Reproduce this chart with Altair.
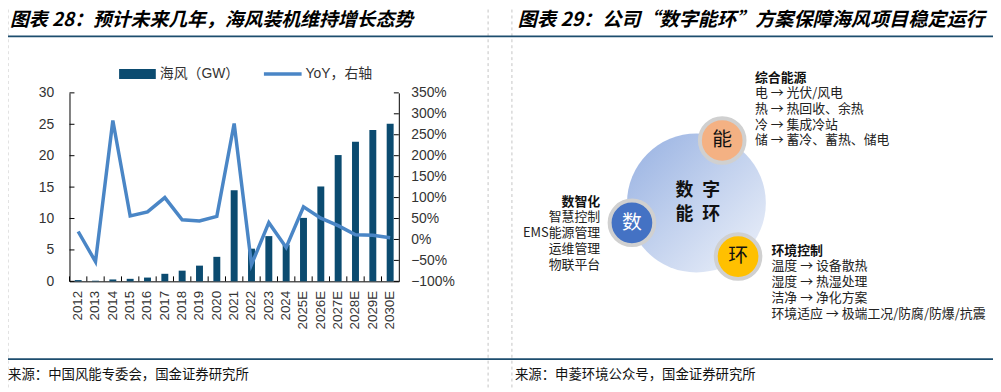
import altair as alt
import pandas as pd

# ---------------- data ----------------
years = ["2012", "2013", "2014", "2015", "2016", "2017", "2018", "2019", "2020",
         "2021", "2022", "2023", "2024", "2025E", "2026E", "2027E", "2028E",
         "2029E", "2030E"]
capacity_gw = [0.2, 0.1, 0.3, 0.4, 0.6, 1.2, 1.7, 2.5, 3.9, 14.5, 5.2, 7.2, 5.8,
               10.1, 15.1, 20.1, 22.2, 24.1, 25.1]
yoy = [0.19, -0.53, 2.84, 0.56, 0.66, 1.00, 0.47, 0.44, 0.55, 2.77, -0.60, 0.40,
       -0.19, 0.78, 0.51, 0.33, 0.11, 0.10, 0.04]
left_ticks = [0, 5, 10, 15, 20, 25, 30]
right_ticks = [-1.0, -0.5, 0.0, 0.5, 1.0, 1.5, 2.0, 2.5, 3.0, 3.5]

legend_labels = ["海风（GW）", "YoY，右轴"]
title_left = "图表 28：预计未来几年，海风装机维持增长态势"
title_right = "图表 29：公司“数字能环”方案保障海风项目稳定运行"
source_left = "来源：中国风能专委会，国金证券研究所"
source_right = "来源：申菱环境公众号，国金证券研究所"

center_chars = ["数", "字", "能", "环"]
node_chars = ["能", "数", "环"]
energy_lines = ["综合能源", "电 → 光伏/风电", "热 → 热回收、余热", "冷 → 集成冷站",
                "储 → 蓄冷、蓄热、储电"]
digital_lines = ["数智化", "智慧控制", "EMS能源管理", "运维管理", "物联平台"]
env_lines = ["环境控制", "温度 → 设备散热", "湿度 → 热湿处理", "洁净 → 净化方案",
             "环境适应 → 极端工况/防腐/防爆/抗震"]

# ---------------- style ----------------
BAR = "#0b4b70"
LINE = "#4a86c6"
NAVY = "#1d4d6e"
CJK = "Noto Sans CJK SC"
LAT = "Liberation Sans, Noto Sans CJK SC"
W, H = 332, 190

df = pd.DataFrame({"year": years, "cap": capacity_gw, "yoy": yoy})
one = pd.DataFrame({"k": [0]})

xscale = alt.Scale(domain=years, paddingInner=0.6, paddingOuter=0.3)
xenc = alt.X("year:N", sort=years, scale=xscale,
             axis=alt.Axis(title=None, labelAngle=-90, labelPadding=9,
                           labelFontSize=13.5, domainColor="#000"))

bars = alt.Chart(df).mark_bar(color=BAR).encode(
    x=xenc,
    y=alt.Y("cap:Q", scale=alt.Scale(domain=[0, 30], nice=False),
            axis=alt.Axis(orient="left", values=left_ticks, title=None,
                          labelPadding=16, labelFontSize=14)),
)
line = alt.Chart(df).mark_line(color=LINE, strokeWidth=3.5).encode(
    x=xenc,
    y=alt.Y("yoy:Q", scale=alt.Scale(domain=[-1, 3.5], nice=False),
            axis=alt.Axis(orient="right", values=right_ticks, format=".0%",
                          title=None, labelPadding=12, labelFontSize=14)),
)
lt = alt.Chart(pd.DataFrame({"v": left_ticks})).mark_rule(color="#000").encode(
    y=alt.Y("v:Q", scale=alt.Scale(domain=[0, 30], nice=False), axis=None),
    x=alt.value(0), x2=alt.value(5))
rt = alt.Chart(pd.DataFrame({"v": right_ticks})).mark_rule(color="#000").encode(
    y=alt.Y("v:Q", scale=alt.Scale(domain=[-1, 3.5], nice=False), axis=None),
    x=alt.value(W), x2=alt.value(W - 5))
xt = alt.Chart(df).mark_rule(color="#000", xOffset=-W / 19 / 2).encode(
    x=xenc, y=alt.value(H), y2=alt.value(H - 5))


def txt(s, x, y, size=13.0, weight="normal", color="#222222", align="left",
        font=CJK, style="normal"):
    return alt.Chart(one).mark_text(
        align=align, baseline="middle", fontSize=size, fontWeight=weight,
        color=color, font=font, fontStyle=style,
    ).encode(x=alt.value(x), y=alt.value(y), text=alt.value(s))


def hrule(x1, x2, y, color, width=1.0, dash=None):
    kw = {"color": color, "strokeWidth": width}
    if dash:
        kw["strokeDash"] = dash
    return alt.Chart(one).mark_rule(**kw).encode(
        x=alt.value(x1), x2=alt.value(x2), y=alt.value(y))


def vrule(x, y1, y2, color, width=1.0, dash=None):
    kw = {"color": color, "strokeWidth": width}
    if dash:
        kw["strokeDash"] = dash
    return alt.Chart(one).mark_rule(**kw).encode(
        x=alt.value(x), y=alt.value(y1), y2=alt.value(y2))


layers = []
# frame lines
for xv in [-62, 422, 446]:
    layers.append(vrule(xv, -84, 300, "#c4c4c4", 1, [3, 3]))
layers.append(hrule(-62, 931, -57, NAVY, 1.8))
layers.append(hrule(-62, 931, 268.5, NAVY, 1.8))

# titles and sources
layers.append(txt(title_left, -60, -73.5, 19, "bold", "#000", style="italic"))
layers.append(txt(title_right, 452, -73.5, 19.3, "bold", "#000", style="italic"))
layers.append(txt(source_left, -62, 284.5, 13.5, color="#111"))
layers.append(txt(source_right, 449, 284.5, 13.5, color="#111"))

# chart
layers += [bars, line, lt, rt, xt]

# legend
layers.append(alt.Chart(one).mark_rect(color=BAR).encode(
    x=alt.value(50), x2=alt.value(87), y=alt.value(-24), y2=alt.value(-14)))
layers.append(txt(legend_labels[0], 91, -19, 14, color="#333", font=LAT))
layers.append(hrule(196, 234, -19, LINE, 3.5))
layers.append(txt(legend_labels[1], 238, -19, 14, color="#333", font=LAT))

# diagram
grad = alt.Gradient(gradient="linear",
                    stops=[alt.GradientStop(color="#9fb7e4", offset=0),
                           alt.GradientStop(color="#c3d2ee", offset=0.5),
                           alt.GradientStop(color="#e6ecf8", offset=1)],
                    x1=0.1, y1=0.1, x2=0.9, y2=0.9)
layers.append(alt.Chart(one).mark_circle(fill=grad, size=19600, opacity=1).encode(
    x=alt.value(632), y=alt.value(111)))
node_pos = [(658, 48), (567, 131), (674, 165)]
node_fill = ["#f4b183", "#4472c4", "#ffc000"]
node_txt = ["#111", "#ffffff", "#111"]
for ch, (nx, ny), fc, tc in zip(node_chars, node_pos, node_fill, node_txt):
    layers.append(alt.Chart(one).mark_circle(
        fill=fc, stroke="#d0d0d0", strokeWidth=4, size=2025, opacity=1).encode(
        x=alt.value(nx), y=alt.value(ny)))
    layers.append(txt(ch, nx, ny, 20, color=tc, align="center"))

center_pos = [(620, 98.5), (647, 98.5), (620, 123.5), (647, 123.5)]
for ch, (cx, cy) in zip(center_chars, center_pos):
    layers.append(txt(ch, cx, cy, 18, "bold", "#111", align="center"))

for i, s in enumerate(energy_lines):
    layers.append(txt(s, 691, -15.3 + i * 15.8, 13, "bold" if i == 0 else "normal",
                      "#111" if i == 0 else "#222"))
for i, s in enumerate(digital_lines):
    layers.append(txt(s, 535, 109.7 + i * 15.85, 13, "bold" if i == 0 else "normal",
                      "#111" if i == 0 else "#222", align="right"))
for i, s in enumerate(env_lines):
    layers.append(txt(s, 707.7, 159 + i * 16, 13, "bold" if i == 0 else "normal",
                      "#111" if i == 0 else "#222"))

chart = alt.layer(*layers).resolve_scale(y="independent").properties(
    width=W, height=H,
    autosize=alt.AutoSizeParams(type="none"),
    padding={"left": 62, "top": 84, "right": 599, "bottom": 110},
    background="#ffffff",
).configure_axis(
    labelFont="Liberation Sans", labelColor="#333333", domainColor="#000000",
    ticks=False, grid=False,
).configure_view(stroke="transparent")

chart.save("out.html", embed_options={"renderer": "svg", "actions": False})
